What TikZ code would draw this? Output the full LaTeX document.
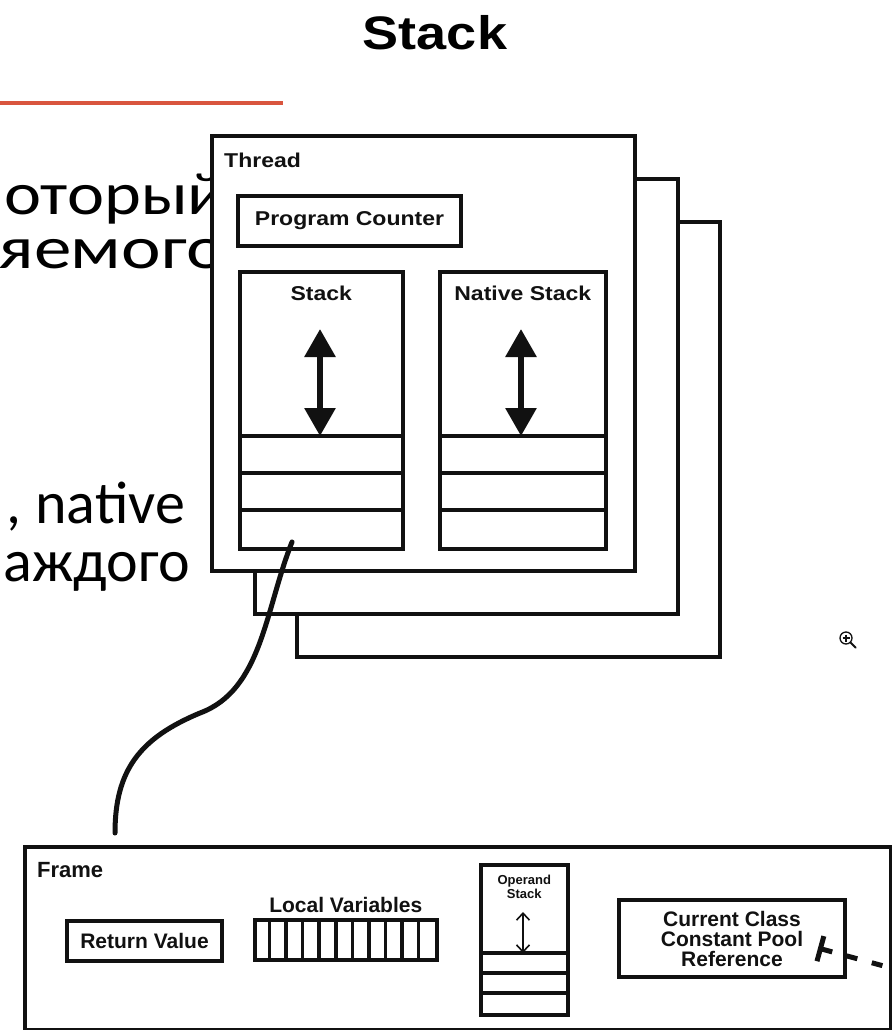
\documentclass[tikz,border=0pt]{standalone}
\usepackage{fontspec}
\setmainfont{Liberation Sans}
\newfontfamily\slidefont{Carlito}
\newfontfamily\slidewide[FakeStretch=1.17]{Carlito}
\newfontfamily\slidewider[FakeStretch=1.25]{Carlito}
\newfontfamily\widefont[FakeStretch=1.15]{Liberation Sans}
\usetikzlibrary{arrows.meta,positioning}
\definecolor{accentred}{HTML}{D9553E}
\definecolor{inkblack}{HTML}{111111}

\begin{document}
\begin{tikzpicture}[
  x=1pt,y=-1pt,
  panel/.style={draw=inkblack,fill=white,line width=4pt,inner sep=0pt,
    minimum width=423pt,minimum height=435pt,anchor=north west},
  cellbox/.style={draw=inkblack,fill=white,line width=3.5pt,inner sep=0pt},
  toplbl/.style={font=\widefont\bfseries\fontsize{20}{24}\selectfont,text=inkblack},
  framelbl/.style={font=\bfseries\fontsize{21}{20}\selectfont,text=inkblack,align=center},
  slide/.style={font=\slidefont\fontsize{60}{60}\selectfont,anchor=base east,inner sep=0pt},
  bigarrow/.style={inkblack,line width=6pt,
    {Triangle[width=30pt,length=28pt]}-{Triangle[width=30pt,length=28pt]}},
  thinarrow/.style={inkblack,line width=1.6pt,
    {Straight Barb[width=13pt,length=7pt]}-{Straight Barb[width=13pt,length=7pt]}},
  reflink/.style={inkblack,line width=5pt,dash pattern=on 11pt off 15pt,
    {Bar[width=26pt]}-}
]
  \useasboundingbox (0,0) rectangle (891,1030);
  \fill[white] (0,0) rectangle (891,1030);

  % slide title and text behind the picture
  \node[font=\widefont\bfseries\fontsize{47}{50}\selectfont,anchor=base]
    (title) at (435,50) {Stack};
  \draw[accentred,line width=3.5pt] (0,103) -- (283,103);
  \node[slide,font=\slidewide\fontsize{60}{60}\selectfont] (txt1) at (226,214) {оторый};
  \node[slide,font=\slidewider\fontsize{60}{60}\selectfont] (txt2) at (226,268) {яемого};
  \node[slide] (txt3) at (185,523) {, native};
  \node[slide] (txt4) at (190,581) {аждого};

  % threads
  \node[panel] (thread3) at (295,220) {};
  \node[panel] (thread2) at (253,177) {};
  \node[panel] (thread) at (210,134) {};
  \node[toplbl,anchor=base west,inner sep=0pt] (threadlbl) at (224,167) {Thread};

  \node[cellbox,toplbl,minimum width=223pt,minimum height=50pt] (pc) at (349.5,221) {Program Counter};

  \node[cellbox,minimum width=163pt,minimum height=277pt,anchor=north west] (stack) at (238,270) {};
  \node[cellbox,minimum width=166pt,minimum height=277pt,anchor=north west] (native) at (438,270) {};
  \foreach \y in {436,473,510} {
    \draw[inkblack,line width=3.5pt] (238,\y) -- (401,\y);
    \draw[inkblack,line width=3.5pt] (438,\y) -- (604,\y);
  }
  \node[toplbl,below=12pt of stack.north] (stacklbl) {Stack};
  \node[toplbl,below=12pt of native.north] (nativelbl) {Native Stack};
  \draw[bigarrow] (320,329) -- (320,436);
  \draw[bigarrow] (521,329) -- (521,436);

  % frame
  \node[cellbox,line width=4pt,minimum width=866pt,minimum height=183pt,anchor=north west] (frame) at (23,845) {};
  \node[framelbl,font=\bfseries\fontsize{22}{22}\selectfont,anchor=base west,inner sep=0pt] (framelbl) at (37,877) {Frame};

  \node[cellbox,line width=4pt,framelbl,minimum width=155pt,minimum height=40pt] (retval) at (144.5,941) {Return Value};

  \node[cellbox,minimum width=182pt,minimum height=40pt,anchor=north west] (locals) at (253,918) {};
  \foreach \i in {1,...,10}
    \draw[inkblack,line width=3.5pt] (253+\i*16.55,918) -- ++(0,40);
  \node[framelbl,above=2pt of locals] (localslbl) {Local Variables};

  \node[cellbox,minimum width=87pt,minimum height=150pt,anchor=north west] (opstack) at (479,863) {};
  \foreach \y in {953,973,993}
    \draw[inkblack,line width=3.5pt] (479,\y) -- (566,\y);
  \node[framelbl,font=\bfseries\fontsize{13}{11}\selectfont,below=9pt of opstack.north] (oplbl) {Operand\\Stack};
  \draw[thinarrow] (523,912) -- (523,953);

  \node[cellbox,line width=4pt,framelbl,minimum width=226pt,minimum height=77pt] (cpref) at (732,938.5)
    {Current Class\\Constant Pool\\Reference};

  % links
  \coordinate (stackcell) at (292,542);
  \coordinate (frametop) at (115,833);
  \draw[inkblack,line width=5pt,line cap=round] (stackcell)
    .. controls (265,610) and (262,690) .. (200,713)
    .. controls (140,738) and (115,770) .. (frametop);
  \coordinate (reftail) at (818,948);
  \coordinate (refout) at (891,968);
  \draw[reflink] (reftail) -- (refout);

  % zoom icon
  \node[draw=inkblack,circle,line width=1.3pt,minimum size=12pt,inner sep=0pt] (zoomicon) at (846,638) {};
  \draw[inkblack,line width=1.2pt] (842.5,638) -- (849.5,638) (846,634.5) -- (846,641.5);
  \draw[inkblack,line width=2pt,line cap=round] (zoomicon.south east) -- ++(5,5);
\end{tikzpicture}
\end{document}
